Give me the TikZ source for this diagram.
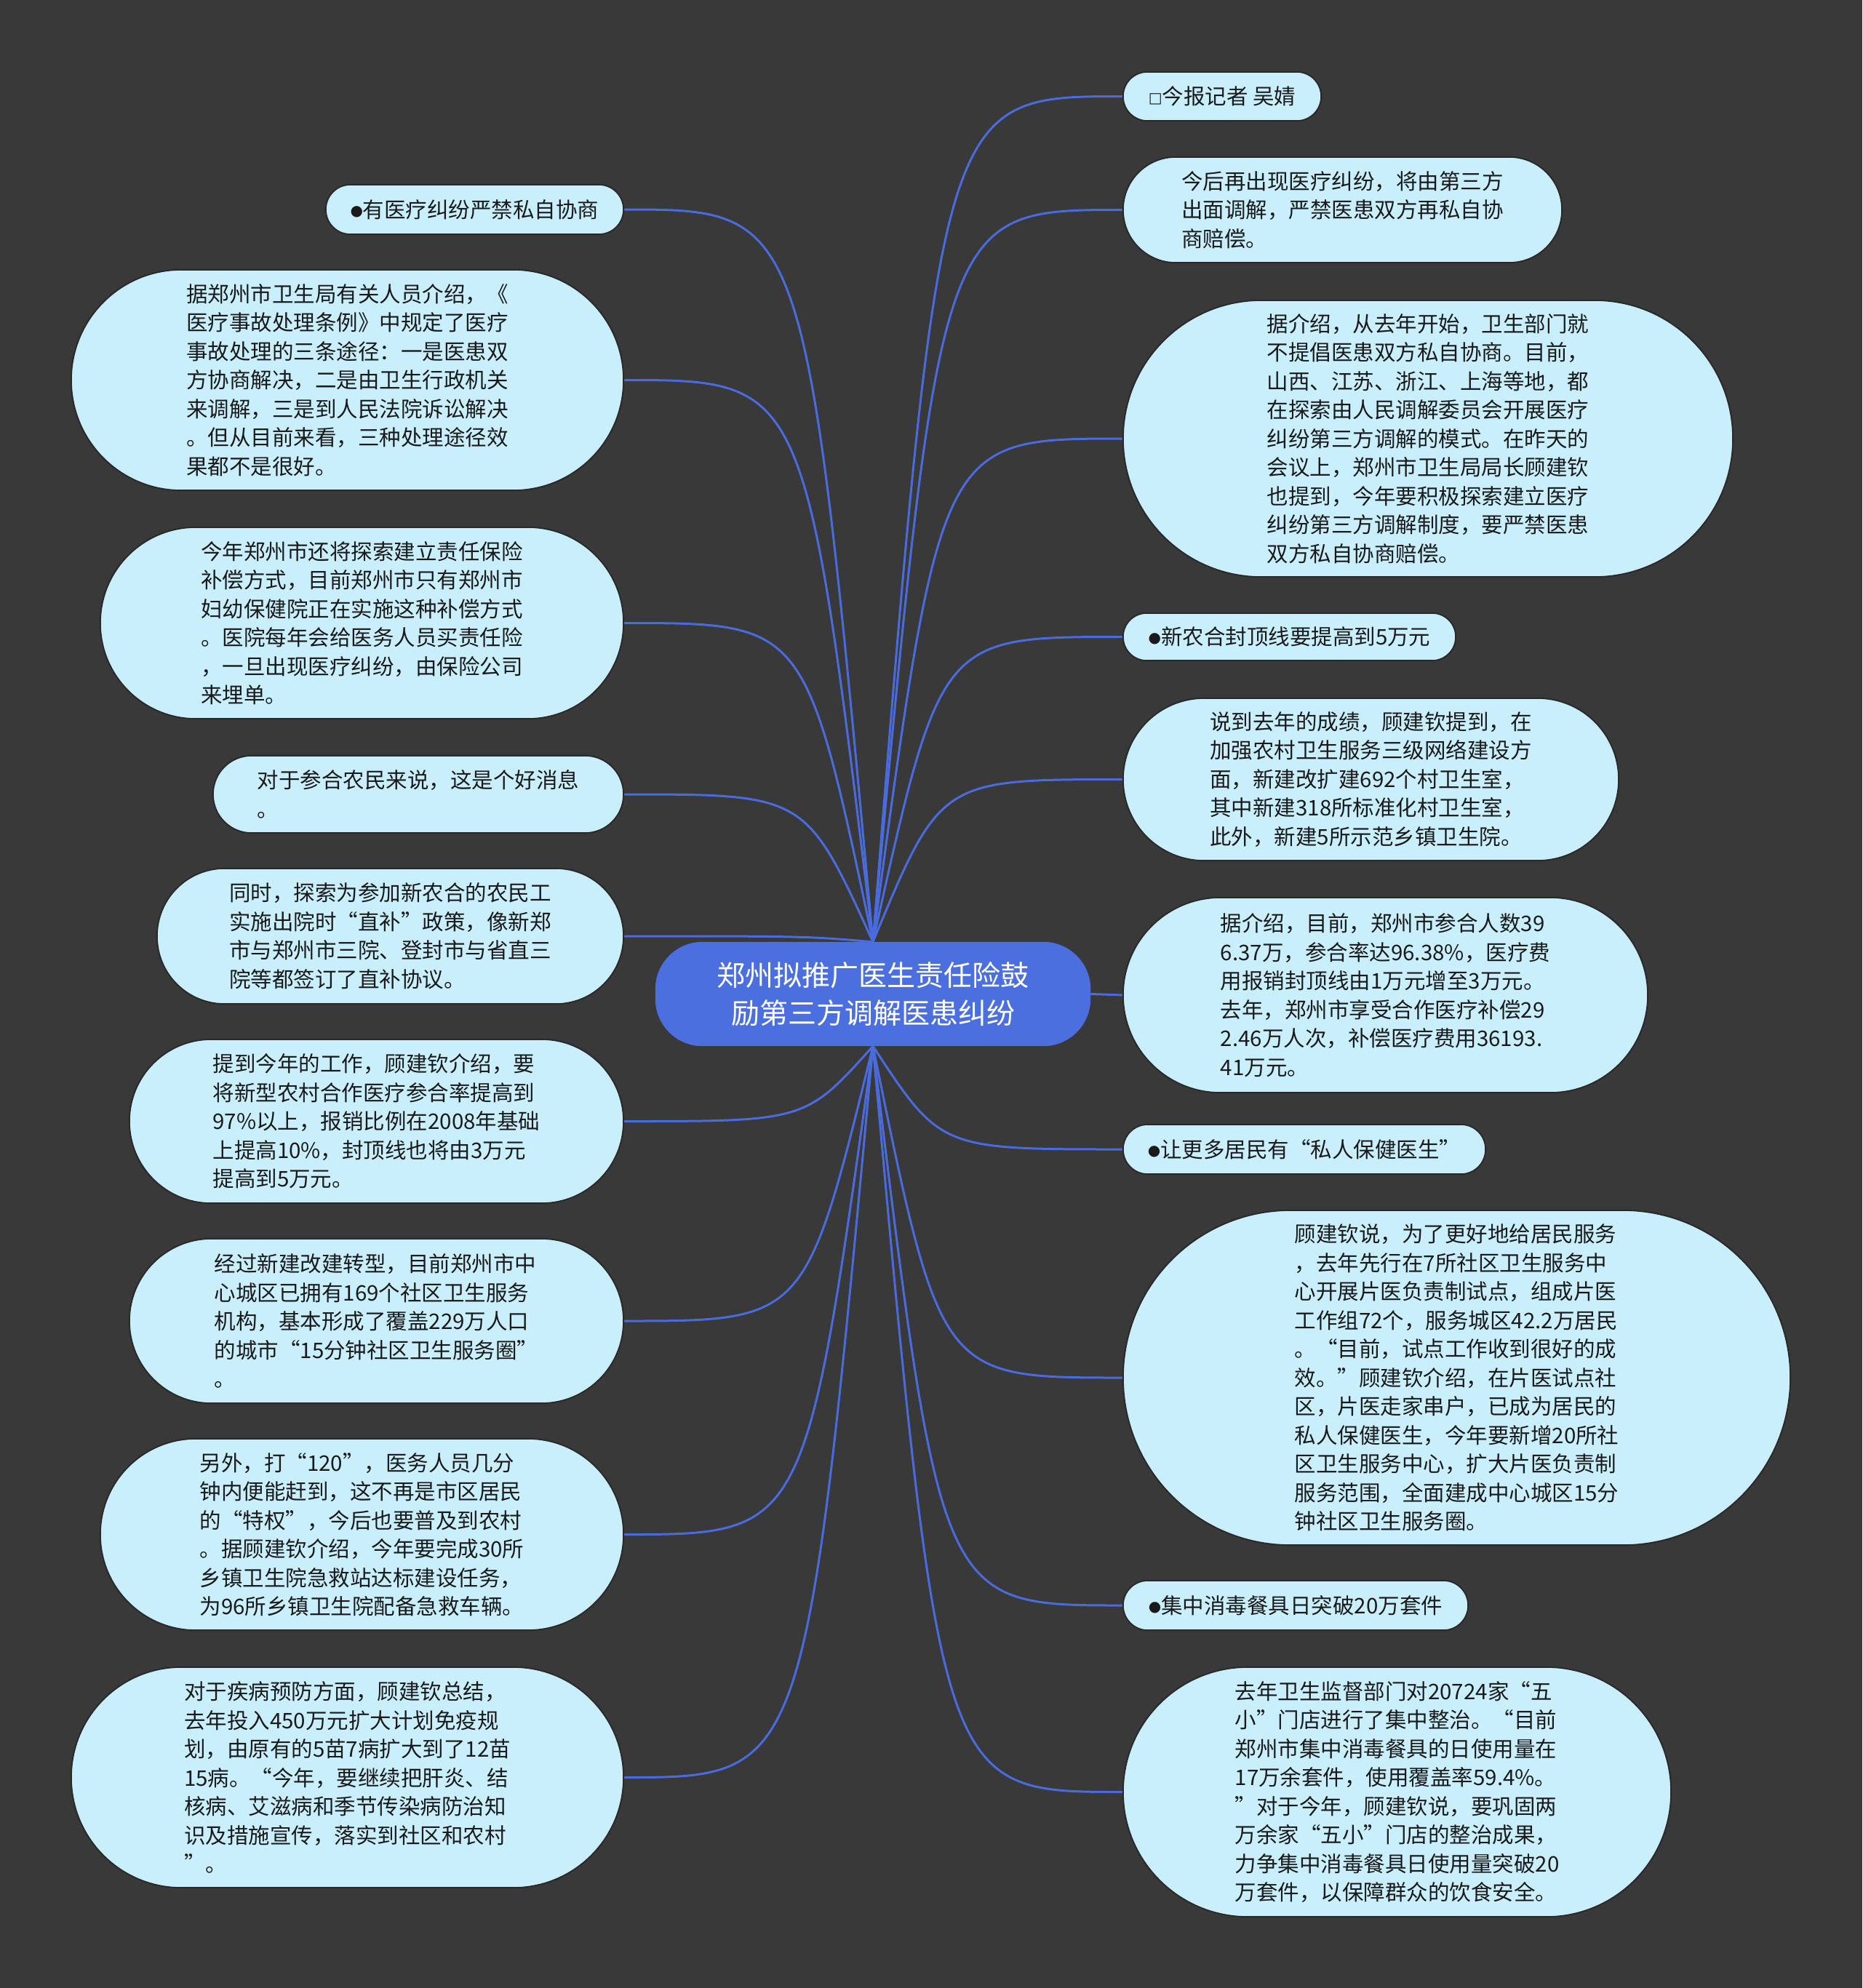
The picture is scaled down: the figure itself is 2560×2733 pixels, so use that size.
\documentclass[tikz,border=0pt]{standalone}
\usepackage{fontspec}
\setmainfont{Noto Sans CJK SC}
\newfontfamily\dvs{DejaVu Sans}
\usetikzlibrary{calc}
\pgfdeclarelayer{back}
\pgfdeclarelayer{edges}
\pgfdeclarelayer{shapes}
\pgfsetlayers{back,edges,shapes,main}
\definecolor{bgcol}{HTML}{393939}
\definecolor{nodefill}{HTML}{C9EFFC}
\definecolor{nodeline}{HTML}{2A2A2A}
\definecolor{edgecol}{HTML}{4A6BDB}
\definecolor{ctrfill}{HTML}{4C6FE0}
\definecolor{txtcol}{HTML}{1A1A1A}
\newcommand\mmdot{\raisebox{3pt}{\dvs\fontsize{20}{20}\selectfont ●}}
\newcommand\mmbox{\raisebox{2pt}{\dvs\fontsize{20}{20}\selectfont □}}
\tikzset{
  mmtxt/.style={rectangle, inner sep=0pt, align=left, text=txtcol, font=\fontsize{29.5}{39.5}\selectfont},
  mmpill/.style={fill=nodefill, draw=nodeline, line width=2pt},
  ctrtxt/.style={rectangle, inner sep=0pt, align=center, text=white, font=\fontsize{39}{52}\selectfont},
  edge/.style={draw=edgecol, line width=3pt}
}
\newcommand\mmnode[6]{%
  \node[mmtxt, minimum width=#4pt, minimum height=#5pt] (#1) at (#2,#3) {#6};%
  \pgfmathsetmacro\mmrad{#5/2}%
  \begin{pgfonlayer}{shapes}%
    \path[mmpill, rounded corners=\mmrad pt] (#1.south west) rectangle (#1.north east);%
  \end{pgfonlayer}%
}
\begin{document}
\begin{tikzpicture}[x=1pt,y=-1pt]
\begin{pgfonlayer}{back}
  \fill[bgcol] (0,0) rectangle (2560,2733);
\end{pgfonlayer}
\useasboundingbox (0,0) rectangle (2560,2733);

% centre
\node[ctrtxt, minimum width=598pt, minimum height=143pt] (c) at (1200,1366.5) {郑州拟推广医生责任险鼓\\励第三方调解医患纠纷};
\begin{pgfonlayer}{shapes}
  \path[fill=ctrfill, rounded corners=65pt] (c.south west) rectangle (c.north east);
\end{pgfonlayer}

% right side
\mmnode{r1}{1680}{132.5}{272}{67}{\mmbox 今报记者 吴婧}
\mmnode{r2}{1845.5}{288.5}{603}{145}{今后再出现医疗纠纷，将由第三方\\出面调解，严禁医患双方再私自协\\商赔偿。}
\mmnode{r3}{1963}{603}{838}{380}{据介绍，从去年开始，卫生部门就\\不提倡医患双方私自协商。目前，\\山西、江苏、浙江、上海等地，都\\在探索由人民调解委员会开展医疗\\纠纷第三方调解的模式。在昨天的\\会议上，郑州市卫生局局长顾建钦\\也提到，今年要积极探索建立医疗\\纠纷第三方调解制度，要严禁医患\\双方私自协商赔偿。}
\mmnode{r4}{1772.5}{875.5}{457}{65}{\mmdot 新农合封顶线要提高到5万元}
\mmnode{r5}{1884.5}{1071.5}{681}{223}{说到去年的成绩，顾建钦提到，在\\加强农村卫生服务三级网络建设方\\面，新建改扩建692个村卫生室，\\其中新建318所标准化村卫生室，\\此外，新建5所示范乡镇卫生院。}
\mmnode{r6}{1904.5}{1368}{721}{268}{据介绍，目前，郑州市参合人数39\\6.37万，参合率达96.38\%，医疗费\\用报销封顶线由1万元增至3万元。\\去年，郑州市享受合作医疗补偿29\\2.46万人次，补偿医疗费用36193.\\41万元。}
\mmnode{r7}{1793}{1580}{498}{68}{\mmdot 让更多居民有“私人保健医生”}
\mmnode{r8}{2002.5}{1894}{917}{460}{顾建钦说，为了更好地给居民服务\\，去年先行在7所社区卫生服务中\\心开展片医负责制试点，组成片医\\工作组72个，服务城区42.2万居民\\。“目前，试点工作收到很好的成\\效。”顾建钦介绍，在片医试点社\\区，片医走家串户，已成为居民的\\私人保健医生，今年要新增20所社\\区卫生服务中心，扩大片医负责制\\服务范围，全面建成中心城区15分\\钟社区卫生服务圈。}
\mmnode{r9}{1781}{2207}{474}{68}{\mmdot 集中消毒餐具日突破20万套件}
\mmnode{r10}{1920.5}{2463.5}{753}{343}{去年卫生监督部门对20724家“五\\小”门店进行了集中整治。“目前\\郑州市集中消毒餐具的日使用量在\\17万余套件，使用覆盖率59.4\%。\\”对于今年，顾建钦说，要巩固两\\万余家“五小”门店的整治成果，\\力争集中消毒餐具日使用量突破20\\万套件，以保障群众的饮食安全。}

% left side
\mmnode{l1}{652.5}{288}{409}{68}{\mmdot 有医疗纠纷严禁私自协商}
\mmnode{l2}{477.5}{522.5}{759}{303}{据郑州市卫生局有关人员介绍，《\\医疗事故处理条例》中规定了医疗\\事故处理的三条途径：一是医患双\\方协商解决，二是由卫生行政机关\\来调解，三是到人民法院诉讼解决\\。但从目前来看，三种处理途径效\\果都不是很好。}
\mmnode{l3}{497.5}{856.5}{719}{263}{今年郑州市还将探索建立责任保险\\补偿方式，目前郑州市只有郑州市\\妇幼保健院正在实施这种补偿方式\\。医院每年会给医务人员买责任险\\，一旦出现医疗纠纷，由保险公司\\来埋单。}
\mmnode{l4}{575}{1092}{564}{106}{对于参合农民来说，这是个好消息\\。}
\mmnode{l5}{536.5}{1287}{641}{186}{同时，探索为参加新农合的农民工\\实施出院时“直补”政策，像新郑\\市与郑州市三院、登封市与省直三\\院等都签订了直补协议。}
\mmnode{l6}{517.5}{1541.5}{679}{225}{提到今年的工作，顾建钦介绍，要\\将新型农村合作医疗参合率提高到\\97\%以上，报销比例在2008年基础\\上提高10\%，封顶线也将由3万元\\提高到5万元。}
\mmnode{l7}{517.5}{1816}{679}{226}{经过新建改建转型，目前郑州市中\\心城区已拥有169个社区卫生服务\\机构，基本形成了覆盖229万人口\\的城市“15分钟社区卫生服务圈”\\。}
\mmnode{l8}{497.5}{2109.5}{719}{263}{另外，打“120”，医务人员几分\\钟内便能赶到，这不再是市区居民\\的“特权”，今后也要普及到农村\\。据顾建钦介绍，今年要完成30所\\乡镇卫生院急救站达标建设任务，\\为96所乡镇卫生院配备急救车辆。}
\mmnode{l9}{477.5}{2443.5}{759}{303}{对于疾病预防方面，顾建钦总结，\\去年投入450万元扩大计划免疫规\\划，由原有的5苗7病扩大到了12苗\\15病。“今年，要继续把肝炎、结\\核病、艾滋病和季节传染病防治知\\识及措施宣传，落实到社区和农村\\”。}

% connectors
\begin{pgfonlayer}{edges}
  \foreach \n in {r1,r2,r3,r4,r5}
    \draw[edge] (c.north) .. controls ($(c.north |- \n.west)!0.27!(\n.west)$) .. (\n.west);
  \foreach \n in {l1,l2,l3,l4,l5}
    \draw[edge] (c.north) .. controls ($(c.north |- \n.east)!0.27!(\n.east)$) .. (\n.east);
  \foreach \n in {r7,r8,r9,r10}
    \draw[edge] (c.south) .. controls ($(c.south |- \n.west)!0.27!(\n.west)$) .. (\n.west);
  \foreach \n in {l6,l7,l8,l9}
    \draw[edge] (c.south) .. controls ($(c.south |- \n.east)!0.27!(\n.east)$) .. (\n.east);
  \draw[edge] (c.east) -- (r6.west);
\end{pgfonlayer}
\end{tikzpicture}
\end{document}
